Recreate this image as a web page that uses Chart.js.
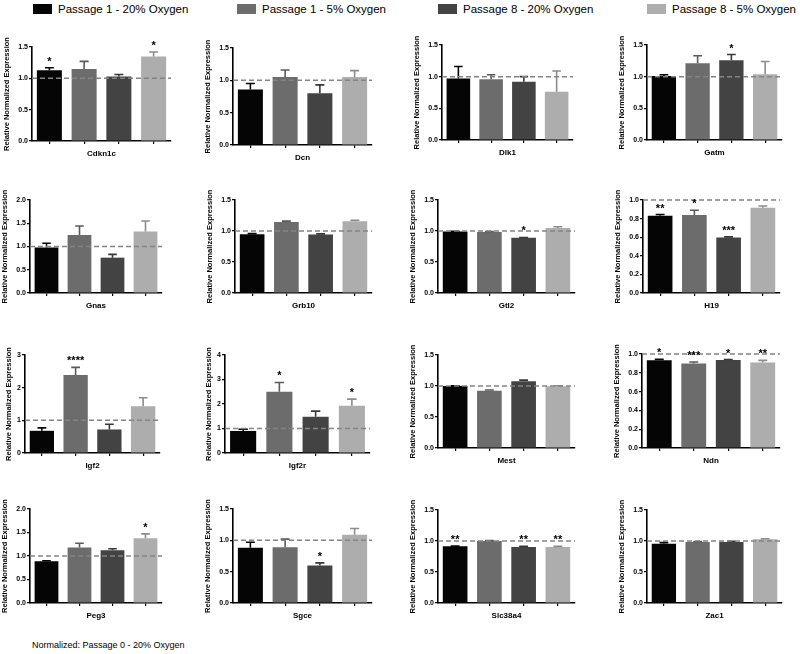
<!DOCTYPE html>
<html>
<head>
<meta charset="utf-8">
<script src="https://cdn.jsdelivr.net/npm/chart.js@4.4.1/dist/chart.umd.min.js"></script>
<style>
    body { margin: 0; width: 800px; height: 654px; position: relative; overflow: hidden; background: #fff; font-family: "Liberation Sans", Arial, sans-serif; }
    .panel { position: absolute; }
    .legend { position: absolute; top: 2px; font-size: 11.5px; line-height: 14px; white-space: nowrap; color: #000; }
    .legend .sw { display: inline-block; width: 19px; height: 10px; margin-right: 6px; vertical-align: -1px; }
    #note { position: absolute; left: 32px; top: 640px; font-size: 9px; white-space: nowrap; }
</style>
</head>
<body>
<div id="legend"></div>
<div id="panels"></div>
<div id="note">Normalized: Passage 0 - 20% Oxygen</div>
<script>
// 遺伝子名
const genes = ['Cdkn1c', 'Dcn', 'Dlk1', 'Gatm', 'Gnas', 'Grb10', 'Gtl2', 'H19',
    'Igf2', 'Igf2r', 'Mest', 'Ndn', 'Peg3', 'Sgce', 'Slc38a4', 'Zac1'];

// 凡例
const seriesNames = [
    'Passage 1 - 20% Oxygen',
    'Passage 1 - 5% Oxygen',
    'Passage 8 - 20% Oxygen',
    'Passage 8 - 5% Oxygen',
];

// 平均値(遺伝子の順)
const p1o20 = [1.13, 0.86, 0.97, 1.01, 0.98, 0.946, 0.99, 0.83, 0.68, 0.90, 1.00, 0.933, 0.886, 0.88, 0.914, 0.957];
const p1o5 = [1.15, 1.05, 0.96, 1.21, 1.25, 1.146, 0.985, 0.84, 2.39, 2.50, 0.925, 0.90, 1.18, 0.89, 1.00, 0.984];
const p8o20 = [1.03, 0.80, 0.92, 1.26, 0.76, 0.945, 0.89, 0.597, 0.72, 1.48, 1.075, 0.936, 1.12, 0.60, 0.904, 0.984];
const p8o5 = [1.35, 1.05, 0.76, 1.04, 1.32, 1.157, 1.05, 0.917, 1.43, 1.93, 0.995, 0.91, 1.38, 1.09, 0.904, 1.027];

// エラーバー(SEM)
const e1o20 = [0.04, 0.09, 0.19, 0.02, 0.09, 0.011, 0.005, 0.014, 0.09, 0.07, 0.003, 0.01, 0.014, 0.09, 0.004, 0.016];
const e1o5 = [0.12, 0.11, 0.07, 0.12, 0.19, 0.014, 0.008, 0.05, 0.23, 0.38, 0.01, 0.015, 0.09, 0.13, 0.006, 0.006];
const e8o20 = [0.03, 0.13, 0.08, 0.09, 0.07, 0.008, 0.006, 0.007, 0.16, 0.23, 0.02, 0.005, 0.035, 0.04, 0.01, 0.011];
const e8o5 = [0.07, 0.10, 0.33, 0.20, 0.23, 0.016, 0.018, 0.018, 0.26, 0.27, 0.008, 0.022, 0.09, 0.10, 0.01, 0.01];

// 有意差の印
const s1o20 = ['*', '', '', '', '', '', '', '**', '', '', '', '*', '', '', '**', ''];
const s1o5 = ['', '', '', '', '', '', '', '*', '****', '*', '', '***', '', '', '', ''];
const s8o20 = ['', '', '', '*', '', '', '*', '***', '', '', '', '*', '', '*', '**', ''];
const s8o5 = ['*', '', '', '', '', '', '', '', '', '*', '', '**', '*', '', '**', ''];

// y軸の目盛り
const yMax = [1.5, 1.5, 1.5, 1.5, 2.0, 1.5, 1.5, 1.0, 3, 4, 1.5, 1.0, 2.0, 1.5, 1.5, 1.5];
const yStep = [0.5, 0.5, 0.5, 0.5, 0.5, 0.5, 0.5, 0.2, 1, 1, 0.5, 0.2, 0.5, 0.5, 0.5, 0.5];
const yDecimals = [1, 1, 1, 1, 1, 1, 1, 1, 0, 0, 1, 1, 1, 1, 1, 1];

// 基準線 (Passage 0 - 20% Oxygen = 1)
const refLevel = 1;

// 色
const barColors = ['#050505', '#6c6c6c', '#434343', '#adadad'];
const errColors = ['#050505', '#5a5a5a', '#383838', '#8c8c8c'];

// 各パネルのプロット領域 [左, 右, 上, 0の位置]
const boxes = [
    [32, 171, 47, 141], [233, 372, 48, 145], [442, 573, 45, 140], [647, 782, 45, 140],
    [30, 162, 200, 293], [235, 372, 200, 293], [438, 575, 200, 293], [643, 780, 200, 293],
    [25, 160, 355, 453], [225, 370, 355, 453], [438, 575, 355, 448], [642, 780, 354, 448],
    [30, 162, 509, 603], [233, 372, 509, 603], [438, 575, 510, 603], [647, 782, 510, 603],
];

const FONT = '"Liberation Sans", Arial, sans-serif';

// 凡例
const legendX = [33, 237, 438, 647];
seriesNames.forEach((name, i) => {
    const d = document.createElement('div');
    d.className = 'legend';
    d.style.left = legendX[i] + 'px';
    d.innerHTML = '<span class="sw" style="background:' + barColors[i] + '"></span>' + name;
    document.getElementById('legend').appendChild(d);
});

// エラーバー・星・点線
const marks = {
    id: 'marks',
    afterDatasetsDraw(chart) {
        const { ctx, chartArea, scales } = chart;
        const y = scales.y;
        const opt = chart.options.plugins.marks;
        const meta = chart.getDatasetMeta(0);
        const vals = chart.data.datasets[0].data;

        meta.data.forEach((bar, i) => {
            const yTop = y.getPixelForValue(vals[i]);
            const yE = y.getPixelForValue(vals[i] + opt.err[i]);
            const half = bar.width * 0.18;
            ctx.save();
            ctx.strokeStyle = errColors[i];
            ctx.lineWidth = 1.6;
            ctx.beginPath();
            ctx.moveTo(bar.x, yTop);
            ctx.lineTo(bar.x, yE);
            ctx.moveTo(bar.x - half, yE);
            ctx.lineTo(bar.x + half, yE);
            ctx.stroke();
            ctx.restore();
        });

        ctx.save();
        ctx.setLineDash([5, 3]);
        ctx.strokeStyle = '#848484';
        ctx.lineWidth = 1.5;
        const yr = y.getPixelForValue(refLevel);
        ctx.beginPath();
        ctx.moveTo(chartArea.left, yr);
        ctx.lineTo(chartArea.right, yr);
        ctx.stroke();
        ctx.restore();

        ctx.save();
        ctx.fillStyle = '#000';
        ctx.font = 'bold 11px ' + FONT;
        ctx.textAlign = 'center';
        ctx.textBaseline = 'alphabetic';
        meta.data.forEach((bar, i) => {
            if (!opt.stars[i]) return;
            const yE = y.getPixelForValue(vals[i] + opt.err[i]);
            ctx.fillText(opt.stars[i], bar.x, yE - 3);
        });
        ctx.restore();
    }
};

const T = 16, R = 6, XH = 19, B = 4;

genes.forEach((gene, g) => {
    const [x0, x1, top, zero] = boxes[g];
    // 整数目盛りのパネルは軸タイトルが近い
    const L = yDecimals[g] ? 32 : 23;
    const wrap = document.createElement('div');
    wrap.className = 'panel';
    wrap.style.left = (x0 - L) + 'px';
    wrap.style.top = (top - T) + 'px';
    wrap.style.width = (x1 - x0 + L + R) + 'px';
    wrap.style.height = (zero - top + T + XH + B) + 'px';
    const cv = document.createElement('canvas');
    wrap.appendChild(cv);
    document.getElementById('panels').appendChild(wrap);

    const data = {
        labels: seriesNames,
        datasets: [{
            data: [p1o20[g], p1o5[g], p8o20[g], p8o5[g]],
            backgroundColor: barColors,
            borderWidth: 0,
            categoryPercentage: 1,
            barPercentage: 0.72,
        }]
    };

    const config = {
        type: 'bar',
        data: data,
        options: {
            responsive: true,
            maintainAspectRatio: false,
            animation: false,
            devicePixelRatio: 1,
            layout: { padding: { left: 0, top: T, right: R, bottom: B } },
            plugins: {
                legend: { display: false },
                tooltip: { enabled: false },
                marks: {
                    err: [e1o20[g], e1o5[g], e8o20[g], e8o5[g]],
                    stars: [s1o20[g], s1o5[g], s8o20[g], s8o5[g]],
                },
            },
            scales: {
                x: {
                    afterFit: s => { s.height = XH; },
                    grid: { display: true, drawOnChartArea: false, drawTicks: true, tickLength: 3, color: '#000', lineWidth: 1.2, offset: false },
                    border: { display: true, color: '#000', width: 1.6 },
                    ticks: { display: false },
                    title: {
                        display: true, text: gene, color: '#000',
                        font: { family: FONT, size: 8, weight: 'bold', lineHeight: 1 },
                        padding: { top: 0, bottom: 2 },
                    },
                },
                y: {
                    min: 0,
                    max: yMax[g],
                    afterFit: s => { s.width = L; },
                    grid: { display: true, drawOnChartArea: false, drawTicks: true, tickLength: 3, color: '#000', lineWidth: 1.2 },
                    border: { display: true, color: '#000', width: 1.6 },
                    ticks: {
                        stepSize: yStep[g],
                        padding: 1,
                        color: '#000',
                        font: { family: FONT, size: 7, weight: 'bold' },
                        callback: v => Number(v).toFixed(yDecimals[g]),
                    },
                    title: {
                        display: true, text: 'Relative Normalized Expression', color: '#000',
                        font: { family: FONT, size: 7.5, weight: 'bold', lineHeight: 1 },
                        padding: { top: 3, bottom: 0 },
                    },
                },
            },
        },
        plugins: [marks],
    };

    new Chart(cv, config);
});
</script>
</body>
</html>
